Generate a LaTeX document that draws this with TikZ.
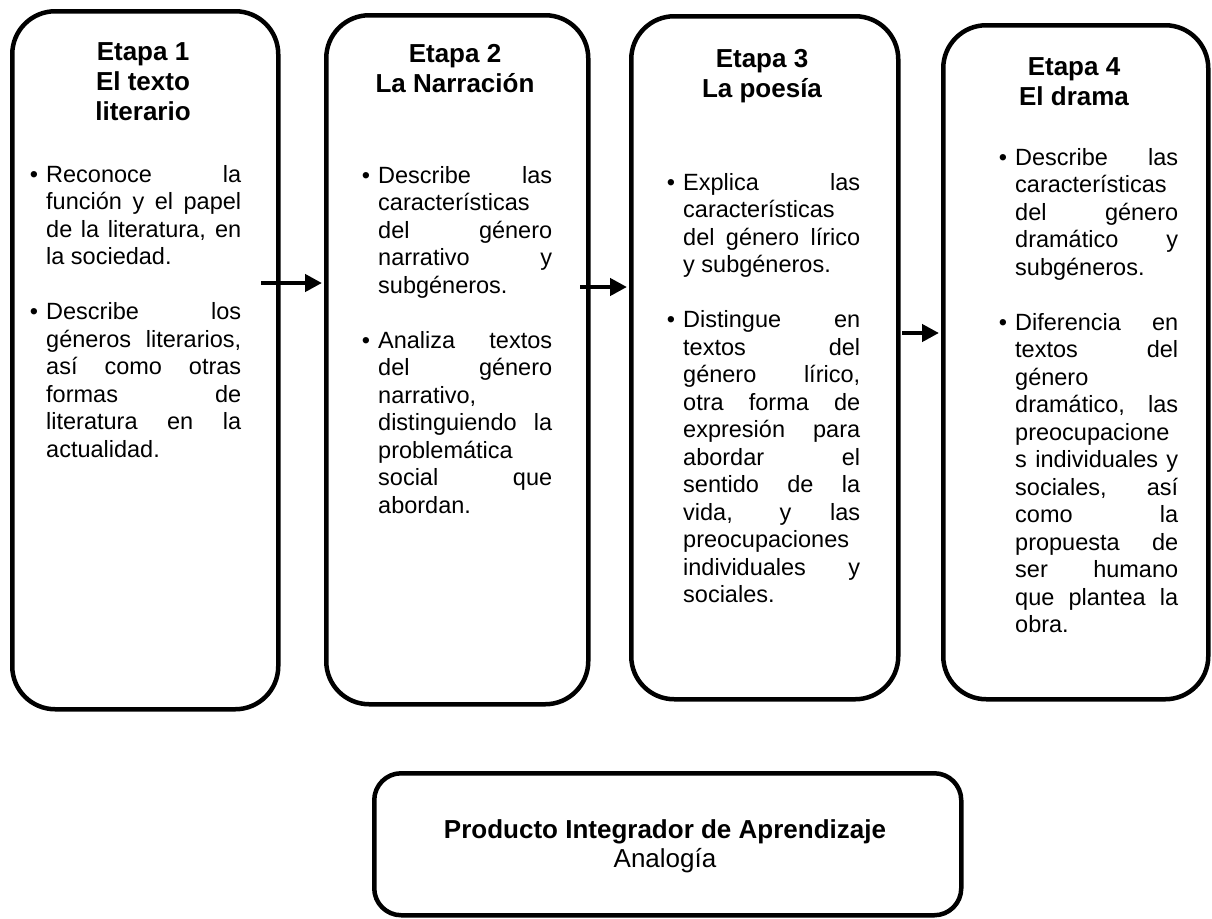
\documentclass[tikz,border=0pt]{standalone}
\usepackage{fontspec}
\setmainfont{Liberation Sans}
\usetikzlibrary{arrows.meta}
\newcommand{\jl}[1]{\makebox[\linewidth][s]{#1}}
\newcommand{\bul}{\leavevmode\llap{\textbullet\hskip 8pt}}
\newcommand{\bodyfont}{\fontsize{23.5pt}{27.5pt}\selectfont}
\newcommand{\titlefont}{\fontsize{26pt}{30pt}\selectfont\bfseries}
\begin{document}
\begin{tikzpicture}[x=1pt,y=-1pt,
  stagebox/.style={draw, line width=4.5pt, rounded corners=43pt, anchor=north west, inner sep=0pt},
  prodbox/.style={draw, line width=4.5pt, rounded corners=27pt, anchor=north west, inner sep=0pt},
  titletext/.style={anchor=base, inner sep=0pt},
  bodytext/.style={anchor=base west, inner sep=0pt},
  conn/.style={line width=4.3pt, -{Triangle[length=17pt,width=17pt]}}]
\useasboundingbox (0,0) rectangle (1212,918);

% boxes
\node[stagebox, minimum width=266pt, minimum height=698pt] (b1) at (10,9) {};
\node[stagebox, minimum width=262pt, minimum height=689pt] (b2) at (324,13) {};
\node[stagebox, minimum width=267pt, minimum height=683pt] (b3) at (629,14) {};
\node[stagebox, minimum width=265pt, minimum height=674pt] (b4) at (941,23) {};
\node[prodbox, minimum width=587pt, minimum height=142pt] (b5) at (372,771) {};

% titles
\node[titletext] (h1) at (143,60) {\parbox[t]{240pt}{\centering\titlefont Etapa 1\\El texto\\literario}};
\node[titletext] (h2) at (455,62) {\parbox[t]{240pt}{\centering\titlefont Etapa 2\\La Narración}};
\node[titletext] (h3) at (762,67) {\parbox[t]{240pt}{\centering\titlefont Etapa 3\\La poesía}};
\node[titletext] (h4) at (1074,75) {\parbox[t]{240pt}{\centering\titlefont Etapa 4\\El drama}};

% bodies
\node[bodytext] (t1) at (46,182) {\parbox[t]{195pt}{\bodyfont
\bul\jl{Reconoce la}\\
\jl{función y el papel}\\
\jl{de la literatura, en}\\
la sociedad.\\[27.5pt]
\bul\jl{Describe los}\\
\jl{géneros literarios,}\\
\jl{así como otras}\\
\jl{formas de}\\
\jl{literatura en la}\\
actualidad.}};

\node[bodytext] (t2) at (378,183) {\parbox[t]{174pt}{\bodyfont
\bul\jl{Describe las}\\
características\\
\jl{del género}\\
\jl{narrativo y}\\
subgéneros.\\[27.5pt]
\bul\jl{Analiza textos}\\
\jl{del género}\\
narrativo,\\
\jl{distinguiendo la}\\
problemática\\
\jl{social que}\\
abordan.}};

\node[bodytext] (t3) at (683,190) {\parbox[t]{177pt}{\bodyfont
\bul\jl{Explica las}\\
características\\
\jl{del género lírico}\\
y subgéneros.\\[27.5pt]
\bul\jl{Distingue en}\\
\jl{textos del}\\
\jl{género lírico,}\\
\jl{otra forma de}\\
\jl{expresión para}\\
\jl{abordar el}\\
\jl{sentido de la}\\
\jl{vida, y las}\\
preocupaciones\\
\jl{individuales y}\\
sociales.}};

\node[bodytext] (t4) at (1015,165) {\parbox[t]{163pt}{\bodyfont
\bul\jl{Describe las}\\
características\\
\jl{del género}\\
\jl{dramático y}\\
subgéneros.\\[27.5pt]
\bul\jl{Diferencia en}\\
\jl{textos del}\\
género\\
\jl{dramático, las}\\
preocupacione\\
\jl{s individuales y}\\
\jl{sociales, así}\\
\jl{como la}\\
\jl{propuesta de}\\
\jl{ser humano}\\
\jl{que plantea la}\\
obra.}};

% product box text
\node[titletext] (p1) at (665,838) {\parbox[t]{560pt}{\centering\fontsize{26pt}{29pt}\selectfont\textbf{Producto Integrador de Aprendizaje}\\Analogía}};

% connectors
\coordinate (a1s) at (261,283);
\coordinate (a2s) at (580,287);
\coordinate (a3s) at (902,333);
\draw[conn] (a1s) -- ([xshift=-2pt]a1s -| b2.west);
\draw[conn] (a2s) -- ([xshift=-2pt]a2s -| b3.west);
\draw[conn] (a3s) -- ([xshift=-2pt]a3s -| b4.west);
\end{tikzpicture}
\end{document}
